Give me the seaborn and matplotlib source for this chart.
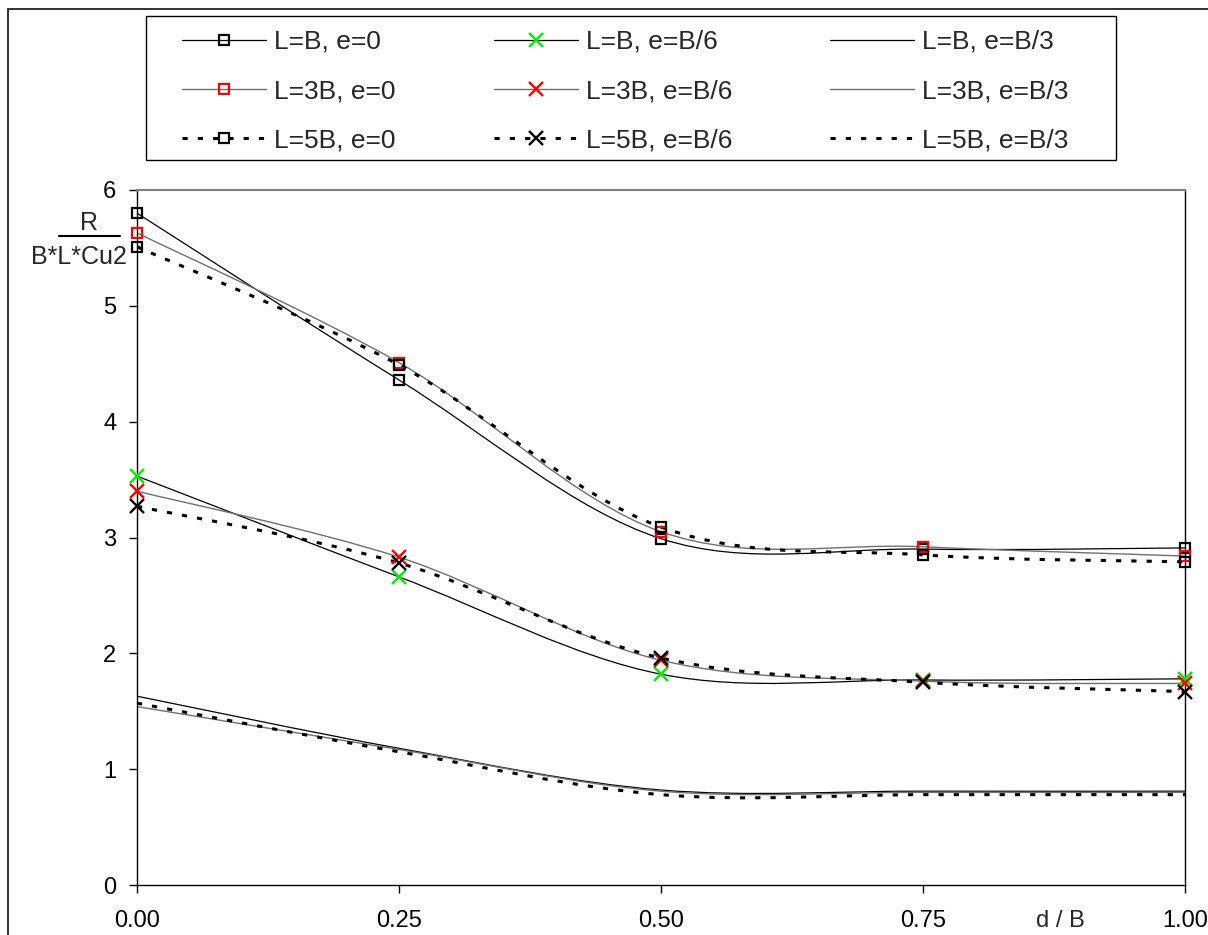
import numpy as np
import pandas as pd
import matplotlib
matplotlib.use("Agg")
import matplotlib.pyplot as plt
import seaborn as sns
from matplotlib.path import Path
from matplotlib.patches import PathPatch, Rectangle
from matplotlib.lines import Line2D

# Relative depth d/B
d_over_b = [0.00, 0.25, 0.50, 0.75, 1.00]

# Normalised capacity R / (B*L*Cu2)
lb_e0 = [5.80, 4.36, 2.99, 2.90, 2.91]
l3b_e0 = [5.63, 4.51, 3.05, 2.92, 2.84]
l5b_e0 = [5.51, 4.49, 3.09, 2.85, 2.79]
lb_e6 = [3.53, 2.66, 1.82, 1.77, 1.78]
l3b_e6 = [3.40, 2.83, 1.94, 1.76, 1.74]
l5b_e6 = [3.27, 2.78, 1.96, 1.75, 1.67]
lb_e3 = [1.63, 1.18, 0.82, 0.81, 0.81]
l3b_e3 = [1.54, 1.17, 0.81, 0.80, 0.80]
l5b_e3 = [1.57, 1.15, 0.78, 0.78, 0.78]

x_ticks = [0.00, 0.25, 0.50, 0.75, 1.00]
y_ticks = [0, 1, 2, 3, 4, 5, 6]

sns.set_style("white")
plt.rcParams["font.family"] = ["Liberation Sans", "DejaVu Sans"]
FS = 17

# line styles per footing length
solid = dict(color="black", lw=0.9, ls="-")
grey = dict(color="#707070", lw=1.0, ls="-")
dash = dict(color="black", lw=2.2, ls=(0, (1.7, 3.3)))

series = [
    ("L=B, e=0", lb_e0, solid, "s", "black"),
    ("L=3B, e=0", l3b_e0, grey, "s", "red"),
    ("L=5B, e=0", l5b_e0, dash, "s", "black"),
    ("L=B, e=B/6", lb_e6, solid, "x", "#00ee00"),
    ("L=3B, e=B/6", l3b_e6, grey, "x", "red"),
    ("L=5B, e=B/6", l5b_e6, dash, "x", "black"),
    ("L=B, e=B/3", lb_e3, solid, None, None),
    ("L=3B, e=B/3", l3b_e3, grey, None, None),
    ("L=5B, e=B/3", l5b_e3, dash, None, None),
]


def smooth_path(xs, ys):
    """Cubic Bezier through the points with Catmull-Rom tangents."""
    pts = np.column_stack([xs, ys]).astype(float)
    n = len(pts)
    verts = [pts[0]]
    codes = [Path.MOVETO]
    for i in range(n - 1):
        p0 = pts[max(i - 1, 0)]
        p1 = pts[i]
        p2 = pts[i + 1]
        p3 = pts[min(i + 2, n - 1)]
        verts += [p1 + (p2 - p0) / 6.0, p2 - (p3 - p1) / 6.0, p2]
        codes += [Path.CURVE4] * 3
    return Path(verts, codes)


W, H = 1208, 935
fig = plt.figure(figsize=(W / 100, H / 100), dpi=100)
ax = fig.add_axes([137 / W, 1 - 885 / H, (1185 - 137) / W, (885 - 190) / H])

marker_kw = {
    "s": dict(markersize=7.2, markeredgewidth=1.6),
    "x": dict(markersize=10.5, markeredgewidth=1.7),
}

handles = []
for label, vals, st, mk, mcol in series:
    ax.add_patch(PathPatch(smooth_path(d_over_b, vals), facecolor="none",
                           edgecolor=st["color"], lw=st["lw"],
                           linestyle=st["ls"], capstyle="butt", zorder=2))
    if mk is not None:
        df = pd.DataFrame({"d": d_over_b, "r": vals})
        sns.lineplot(data=df, x="d", y="r", ax=ax, marker=mk, linestyle="",
                     color=mcol, markerfacecolor="none", markeredgecolor=mcol,
                     clip_on=False, zorder=3, **marker_kw[mk])
    hk = dict(color=st["color"], lw=st["lw"], linestyle=st["ls"],
              dash_capstyle="butt")
    if mk is not None:
        hk.update(marker=mk, markerfacecolor="none", markeredgecolor=mcol,
                  **marker_kw[mk])
    handles.append(Line2D([], [], **hk))

ax.set_xlim(0, 1)
ax.set_ylim(0, 6)
ax.set_xticks(x_ticks)
ax.set_xticklabels([f"{t:.2f}" for t in x_ticks])
ax.set_yticks(y_ticks)
ax.set_yticklabels([str(t) for t in y_ticks])
ax.set_xlabel("")
ax.set_ylabel("")
ax.tick_params(axis="both", direction="out", length=6, width=1, color="black",
               labelsize=FS, labelcolor="black")
ax.tick_params(axis="x", bottom=True, pad=12)
ax.tick_params(axis="y", left=True, pad=9)
for side in ["left", "bottom", "right"]:
    ax.spines[side].set_color("black")
    ax.spines[side].set_linewidth(1.0)
ax.spines["top"].set_color("#808080")
ax.spines["top"].set_linewidth(1.5)

# axis titles
fig.text(1060 / W, 1 - 921 / H, "d / B", ha="center", va="center", fontsize=FS)
fig.text(89 / W, 1 - 223 / H, "R", ha="center", va="center", fontsize=FS + 1)
fig.add_artist(Line2D([59 / W, 120 / W], [1 - 236 / H] * 2,
                      transform=fig.transFigure, color="black", lw=1.5))
fig.text(79 / W, 1 - 257 / H, "B*L*Cu2", ha="center", va="center", fontsize=FS + 1)

# legend: three columns, one per eccentricity, inside a fixed box
fig.add_artist(Rectangle((146 / W, 1 - 160 / H), (1116 - 146) / W, 144 / H,
                         transform=fig.transFigure, fill=False,
                         edgecolor="black", lw=1.0))
leg = fig.legend(handles, [s[0] for s in series], ncol=3, loc="upper left",
                 bbox_to_anchor=(182 / W, 1 - 30 / H),
                 frameon=False, fontsize=FS + 2, handlelength=3.2,
                 handletextpad=0.3, labelspacing=0.95, borderpad=0,
                 borderaxespad=0, columnspacing=3.7)

# chart-area frame
fig.add_artist(Rectangle((8 / W, -0.1), 1.2, 1.1 - 9 / H, transform=fig.transFigure,
                         fill=False, edgecolor="#222222", lw=1.3, clip_on=False))

fig.savefig("out.png", dpi=100)
